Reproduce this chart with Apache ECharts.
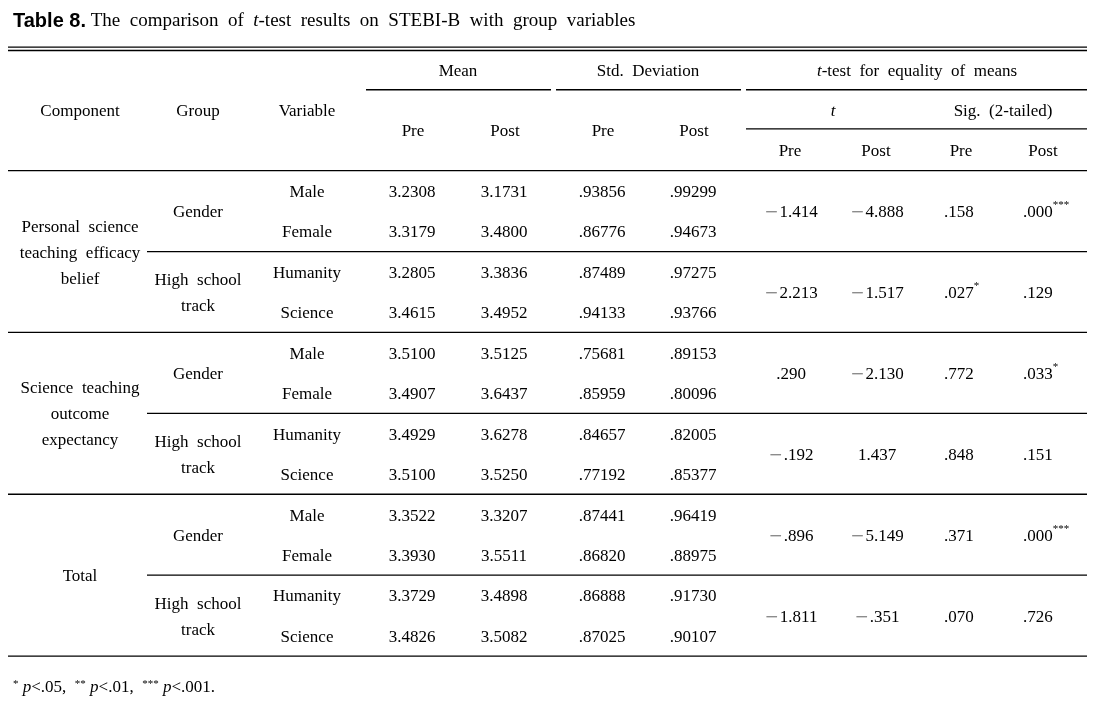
<!DOCTYPE html>
<html><head><meta charset="utf-8">
<script src="https://cdn.jsdelivr.net/npm/echarts@6/dist/echarts.min.js"></script>
<style>html,body{margin:0;padding:0;background:#fff}#c{width:1098px;height:707px}</style>
</head><body><div id="c"></div>
<script>
// ---------- data ----------
const components = ["Personal  science\nteaching  efficacy\nbelief", "Science  teaching\noutcome\nexpectancy", "Total"];
const groups = ["Gender", "High  school\ntrack"];
const variables = ["Male", "Female", "Humanity", "Science"];
const meanPre  = [3.2308, 3.3179, 3.2805, 3.4615, 3.5100, 3.4907, 3.4929, 3.5100, 3.3522, 3.3930, 3.3729, 3.4826];
const meanPost = [3.1731, 3.4800, 3.3836, 3.4952, 3.5125, 3.6437, 3.6278, 3.5250, 3.3207, 3.5511, 3.4898, 3.5082];
const sdPre  = [.93856, .86776, .87489, .94133, .75681, .85959, .84657, .77192, .87441, .86820, .86888, .87025];
const sdPost = [.99299, .94673, .97275, .93766, .89153, .80096, .82005, .85377, .96419, .88975, .91730, .90107];
const tPre  = [-1.414, -2.213, .290, -.192, -.896, -1.811];
const tPost = [-4.888, -1.517, -2.130, 1.437, -5.149, -.351];
const sigPre  = [.158, .027, .772, .848, .371, .070];
const sigPost = [.000, .129, .033, .151, .000, .726];
const headTop = ["Mean", "Std.  Deviation", "{i|t}-test  for  equality  of  means"];
const headMid = ["{i|t}", "Sig.  (2-tailed)"];
const headKeys = ["Component", "Group", "Variable"];
const prePost = ["Pre", "Post"];

// ---------- layout ----------
const W = 1098, H = 707;
const ROW0 = 69.5, ROWH = 40.45, TXT_DY = 0.04;
const X = {comp: 80, group: 198, variable: 307, meanPre: 412, meanPost: 504, sdPre: 602, sdPost: 693,
  tPre: 791, tPost: 877, sigPreL: 944, sigPostL: 1023,
  mean: 458, sd: 648, ttest: 917, t: 833, sig: 1003, hPre: [413, 505, 603, 694], hT: [790, 876, 961, 1043]};
const L = 8, R = 1087, SUBL = 147;
const FONT = "'Liberation Serif', 'Times New Roman', serif";
const FS = 17;

function stars(p) { return p < .001 ? "***" : p < .01 ? "**" : p < .05 ? "*" : ""; }
function noLead(s) { return s.replace(/^(-?)0\./, "$1."); }
function fmtT(v) { const s = noLead(v.toFixed(3)); return s[0] === "-" ? "{m|\u2212}" + s.slice(1) : s; }
function fmtSig(v) { const st = stars(v); return noLead(v.toFixed(3)) + (st ? "{s|" + st + "}" : ""); }

const cells = [];
function cell(x, row, text, align) { cells.push({x: x, row: row + TXT_DY, text: text, align: align || "center"}); }
// header
headKeys.forEach((k, i) => cell([X.comp, X.group, X.variable][i], 1, k));
cell(X.mean, 0, headTop[0]); cell(X.sd, 0, headTop[1]); cell(X.ttest, 0, headTop[2]);
X.hPre.forEach((x, i) => cell(x, 1.5, prePost[i % 2]));
cell(X.t, 1, headMid[0]); cell(X.sig, 1, headMid[1]);
X.hT.forEach((x, i) => cell(x, 2, prePost[i % 2]));
// body
components.forEach((c, i) => cell(X.comp, 3 + 4 * i + 1.5, c));
for (let g = 0; g < 6; g++) {
  const r = 3 + 2 * g + 0.5;
  cell(X.group, r, groups[g % 2]);
  cell(X.tPre, r, fmtT(tPre[g]));
  cell(X.tPost, r, fmtT(tPost[g]));
  cell(X.sigPreL, r, fmtSig(sigPre[g]), "left");
  cell(X.sigPostL, r, fmtSig(sigPost[g]), "left");
}
for (let i = 0; i < 12; i++) {
  const r = 3 + i;
  cell(X.variable, r, variables[i % 4]);
  cell(X.meanPre, r, meanPre[i].toFixed(4));
  cell(X.meanPost, r, meanPost[i].toFixed(4));
  cell(X.sdPre, r, noLead(sdPre[i].toFixed(5)));
  cell(X.sdPost, r, noLead(sdPost[i].toFixed(5)));
}

// rules: [x1, x2, row, width]
const rules = [
  [L, R, -0.555, 1.3], [L, R, -0.47, 1.3],
  [366, 551, 0.5, 1.3], [556, 741, 0.5, 1.3], [746, R, 0.5, 1.3],
  [746, R, 1.47, 1.3],
  [L, R, 2.5, 1.3],
  [SUBL, R, 4.5, 1.3], [L, R, 6.5, 1.3],
  [SUBL, R, 8.5, 1.3], [L, R, 10.5, 1.3],
  [SUBL, R, 12.5, 1.3], [L, R, 14.5, 1.3]
];

const RICH = {
  i: {fontFamily: FONT, fontSize: FS, fontStyle: "italic", fill: "#000"},
  m: {fontFamily: "'DejaVu Sans', sans-serif", fontSize: 17, fill: "#8c8c8c", padding: [0, 1, 0, 0]},
  s: {fontFamily: FONT, fontSize: 11, verticalAlign: "top", fill: "#000"}
};

const chart = echarts.init(document.getElementById("c"), null, {renderer: "canvas"});
chart.setOption({
  animation: false,
  backgroundColor: "#fff",
  title: [{
    left: 13, top: 11, padding: 0,
    text: "{b|Table 8.} The  comparison  of  {i|t}-test  results  on  STEBI-B  with  group  variables",
    textStyle: {fontFamily: FONT, fontSize: 19, fontWeight: "normal", color: "#000",
      rich: {b: {fontFamily: "'Liberation Sans Narrow', 'Liberation Sans', Arial, sans-serif", fontWeight: "bold", fontSize: 20, color: "#000"},
             i: {fontFamily: FONT, fontStyle: "italic", fontSize: 19, color: "#000"}}}
  }, {
    left: 13, top: 679, padding: 0,
    text: "{s|*} {i|p}<.05,  {s|**} {i|p}<.01,  {s|***} {i|p}<.001.",
    textStyle: {fontFamily: FONT, fontSize: 17, fontWeight: "normal", color: "#000",
      rich: {s: {fontFamily: FONT, fontSize: 11, verticalAlign: "top", color: "#000"},
             i: {fontFamily: FONT, fontStyle: "italic", fontSize: 17, color: "#000"}}}
  }],
  grid: {left: 0, right: 0, top: 0, bottom: 0},
  xAxis: {type: "value", min: 0, max: W, show: false},
  yAxis: {type: "value", inverse: true, min: -ROW0 / ROWH, max: (H - ROW0) / ROWH, show: false},
  series: [{
    type: "custom",
    data: rules.map(r => [r[0], r[1], r[2], r[3]]),
    renderItem: function (params, api) {
      const a = api.coord([api.value(0), api.value(2)]);
      const b = api.coord([api.value(1), api.value(2)]);
      return {type: "line", shape: {x1: a[0], y1: a[1], x2: b[0], y2: b[1]},
        style: {stroke: "#000", lineWidth: api.value(3)}};
    },
    silent: true
  }, {
    type: "custom",
    data: cells.map(c => [c.x, c.row]),
    renderItem: function (params, api) {
      const c = cells[params.dataIndex];
      const p = api.coord([api.value(0), api.value(1)]);
      return {type: "text", x: p[0], y: p[1],
        style: {text: c.text, fontFamily: FONT, fontSize: FS, fill: "#000",
          align: c.align, verticalAlign: "middle", lineHeight: 26, rich: RICH}};
    },
    silent: true
  }]
});
</script></body></html>
